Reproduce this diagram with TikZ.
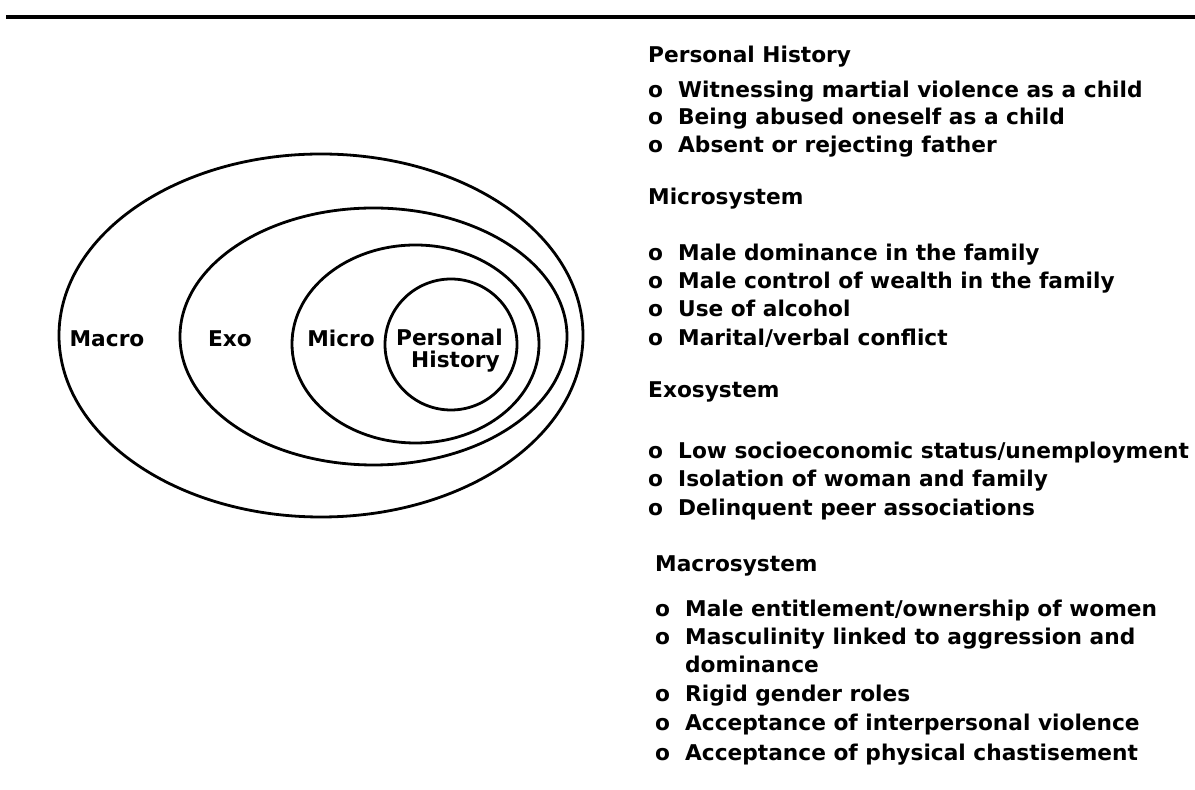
\documentclass[tikz,border=0pt]{standalone}
\usepackage{fontspec}
\setsansfont{DejaVu Sans}
\usetikzlibrary{shapes}

\newcommand{\bul}{\makebox[30bp][l]{o}}

\begin{document}
\begin{tikzpicture}[>=latex,line join=bevel,
  ring/.style={ellipse,draw,line width=2.8bp,inner sep=0pt},
  lbl/.style={font=\sffamily\bfseries\fontsize{21.7bp}{26bp}\selectfont,inner sep=0pt},
  item/.style={lbl,anchor=base west}]
\useasboundingbox (0bp,0bp) rectangle (1195bp,790bp);
%%
\coordinate (rule_0) at (6bp,773bp);
\coordinate (rule_1) at (1195bp,773bp);
\draw [line width=3.5bp] (rule_0) -- (rule_1);
%%
\node (ring_0) at (321bp,454.5bp) [ring,minimum width=524bp,minimum height=363bp] {};
  \node (ring_1) at (373.5bp,453.5bp) [ring,minimum width=387bp,minimum height=257bp] {};
  \node (ring_2) at (415.5bp,446bp) [ring,minimum width=247bp,minimum height=198bp] {};
  \node (ring_3) at (451bp,445.5bp) [ring,minimum width=132bp,minimum height=131bp] {};
  \node (label_0) at (107bp,443bp) [lbl,anchor=base] {Macro};
  \node (label_1) at (230bp,443bp) [lbl,anchor=base] {Exo};
  \node (label_2) at (341bp,443bp) [lbl,anchor=base] {Micro};
  \node (label_3) at (503bp,444bp) [lbl,anchor=base east] {Personal};
  \node (label_4) at (500bp,422.5bp) [lbl,anchor=base east] {History};
%%
\node (head_0) at (648bp,727bp) [item] {Personal History};
  \node (item_0) at (648bp,692bp) [item] {\bul Witnessing martial violence as a child};
  \node (item_1) at (648bp,665bp) [item] {\bul Being abused oneself as a child};
  \node (item_2) at (648bp,637bp) [item] {\bul Absent or rejecting father};
  \node (head_1) at (648bp,585bp) [item] {Microsystem};
  \node (item_3) at (648bp,529bp) [item] {\bul Male dominance in the family};
  \node (item_4) at (648bp,501bp) [item] {\bul Male control of wealth in the family};
  \node (item_5) at (648bp,473bp) [item] {\bul Use of alcohol};
  \node (item_6) at (648bp,444bp) [item] {\bul Marital/verbal conflict};
  \node (head_2) at (648bp,392bp) [item] {Exosystem};
  \node (item_7) at (648bp,331bp) [item] {\bul Low socioeconomic status/unemployment};
  \node (item_8) at (648bp,303bp) [item] {\bul Isolation of woman and family};
  \node (item_9) at (648bp,274bp) [item] {\bul Delinquent peer associations};
  \node (head_3) at (655bp,218bp) [item] {Macrosystem};
  \node (item_10) at (655bp,173bp) [item] {\bul Male entitlement/ownership of women};
  \node (item_11) at (655bp,145bp) [item] {\bul Masculinity linked to aggression and};
  \node (item_12) at (685bp,117bp) [item] {dominance};
  \node (item_13) at (655bp,88bp) [item] {\bul Rigid gender roles};
  \node (item_14) at (655bp,59bp) [item] {\bul Acceptance of interpersonal violence};
  \node (item_15) at (655bp,30bp) [item] {\bul Acceptance of physical chastisement};
%
\end{tikzpicture}
\end{document}
